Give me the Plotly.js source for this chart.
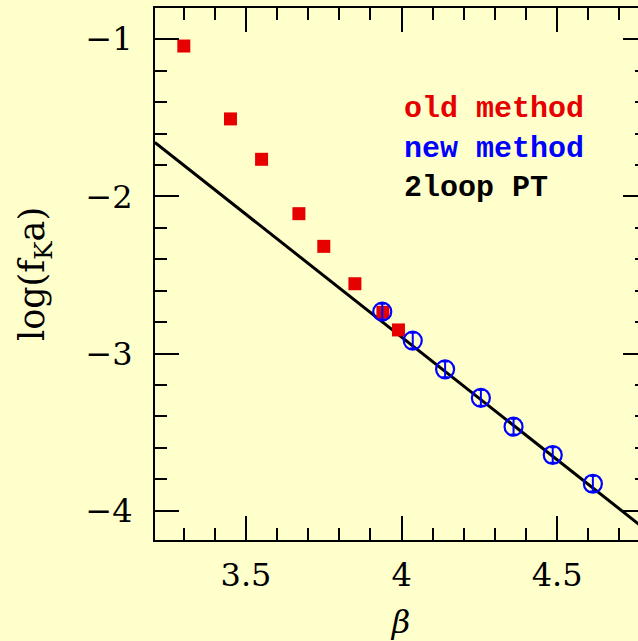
<!DOCTYPE html>
<html>
<head>
<meta charset="utf-8">
<script src="https://cdn.plot.ly/plotly-3.0.1.min.js"></script>
<style>
html, body { margin:0; padding:0; overflow:hidden; background:#ffffcc; }
#chart { width:660px; height:641px; }
</style>
</head>
<body>
<div id="chart"></div>
<script>
// old method (red squares)
const oldBeta = [3.30, 3.45, 3.55, 3.67, 3.75, 3.85, 3.94, 3.99];
const oldLogF = [-1.043, -1.507, -1.764, -2.110, -2.318, -2.556, -2.738, -2.850];
// new method (blue open circles with error bars)
const newBeta = [3.938, 4.036, 4.140, 4.255, 4.360, 4.486, 4.615];
const newLogF = [-2.734, -2.918, -3.101, -3.283, -3.466, -3.646, -3.829];
const newErr  = [0.05, 0.05, 0.05, 0.05, 0.05, 0.05, 0.05];
// 2loop PT curve
const ptBeta = [3.207, 3.6, 4.0, 4.4, 4.79];
const ptLogF = [-1.657, -2.271, -2.894, -3.519, -4.129];
// tick labels
const xTicks = [3.5, 4, 4.5];
const xTickText = ['3.5', '4', '4.5'];
const yTicks = [-1, -2, -3, -4];
const yTickText = ['\u22121', '\u22122', '\u22123', '\u22124'];
// legend texts
const legendText = ['old method', 'new method', '2loop PT'];
const legendColor = ['#e60000', '#0000ff', '#000000'];

const traces = [
  {x: ptBeta, y: ptLogF, mode: 'lines', line: {color: '#000', width: 3}, hoverinfo: 'skip'},
  {x: oldBeta, y: oldLogF, mode: 'markers', marker: {symbol: 'square', size: 13, color: '#e60000'}},
  {x: newBeta, y: newLogF, mode: 'markers',
   marker: {symbol: 'circle-open', size: 18, color: '#0000ff', line: {width: 2.2, color: '#0000ff'}},
   error_y: {type: 'data', array: newErr, visible: true, color: '#0000ff', thickness: 2, width: 3}}
];

const axisCommon = {
  showline: true, linecolor: '#000', linewidth: 2, mirror: 'allticks',
  ticks: 'inside', ticklen: 24, tickwidth: 2, tickcolor: '#000',
  showgrid: false, zeroline: false,
  tickfont: {family: 'DejaVu Serif', size: 32, color: '#000'}
};

const annotations = legendText.map((t, i) => ({
  xref: 'paper', yref: 'paper', x: 0.502, y: [0.810, 0.7355, 0.662][i],
  xanchor: 'left', yanchor: 'middle', showarrow: false, text: '<b>' + t + '</b>',
  font: {family: 'Liberation Mono', size: 30, color: legendColor[i]}
}));

const layout = {
  width: 660, height: 641,
  margin: {l: 155, r: 13, t: 8, b: 101},
  paper_bgcolor: '#ffffcc', plot_bgcolor: '#ffffcc',
  showlegend: false,
  xaxis: Object.assign({}, axisCommon, {
    range: [3.2074, 4.789], tickvals: xTicks, ticktext: xTickText,
    ticklabelstandoff: 6,
    minor: {dtick: 0.1, tick0: 3.2, ticks: 'inside', ticklen: 12, tickwidth: 2, tickcolor: '#000'},
    title: {text: '<i>β</i>', font: {family: 'DejaVu Serif', size: 32, color: '#000'}, standoff: 18}
  }),
  yaxis: Object.assign({}, axisCommon, {
    range: [-4.187, -0.801], tickvals: yTicks, ticktext: yTickText,
    ticklabelstandoff: 14,
    minor: {dtick: 0.2, tick0: -1, ticks: 'inside', ticklen: 12, tickwidth: 2, tickcolor: '#000'},
    title: {text: 'log(f<sub>K</sub>a)', font: {family: 'DejaVu Serif', size: 35, color: '#000'}, standoff: 30}
  }),
  annotations: annotations
};

Plotly.newPlot('chart', traces, layout, {displayModeBar: false, staticPlot: true});
</script>
</body>
</html>
